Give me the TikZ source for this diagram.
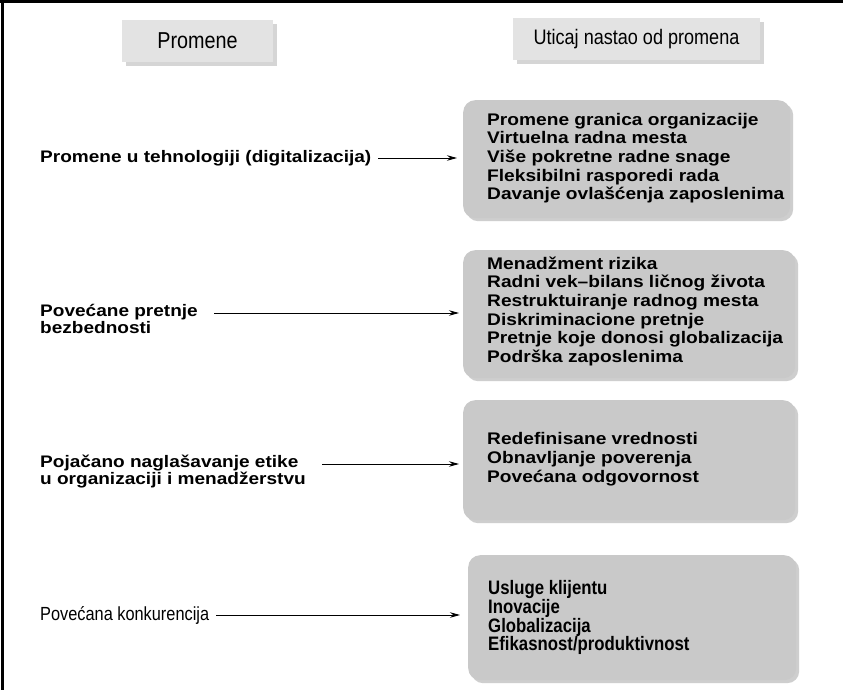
\documentclass[tikz,border=0pt]{standalone}
\usepackage{fontspec}
\setmainfont{Liberation Sans}
\newfontfamily\wideb[FakeStretch=1.14]{Liberation Sans}
\newfontfamily\narrowf[FakeStretch=0.86]{Liberation Sans}
\usetikzlibrary{shadows,arrows.meta}
\tikzset{
  hdr/.style={draw=none, fill=gray!22, minimum height=42pt, inner sep=0pt,
    drop shadow={shadow xshift=4pt, shadow yshift=-4pt, fill=gray!65},
    font=\narrowf\fontsize{21}{24}\selectfont},
  ibox/.style={draw=none, fill=gray!42, rounded corners=12pt, inner sep=0pt,
    anchor=north west,
    drop shadow={shadow xshift=3pt, shadow yshift=-3pt, fill=gray!75}},
  itxt/.style={anchor=west, align=left, inner sep=0pt,
    font=\wideb\bfseries\fontsize{16.8}{18.6}\selectfont},
  lbl/.style={anchor=west, align=left, inner sep=0pt,
    font=\wideb\bfseries\fontsize{16.7}{17}\selectfont},
  arr/.style={-{Stealth[length=10pt,width=5.5pt]}, line width=0.9pt, black}
}
\begin{document}
\begin{tikzpicture}[x=1pt,y=-1pt]
\useasboundingbox (0,0) rectangle (843,690);
\fill[white] (0,0) rectangle (843,690);
% frame (top and left)
\draw[line width=3pt] (0,2) -- (843,2);
\draw[line width=3pt] (2,0) -- (2,690);
% headers
\node[hdr, minimum width=151pt, font=\narrowf\fontsize{23}{24}\selectfont] (h1) at (197.5,41) {Promene};
\node[hdr, minimum width=247pt] (h2) at (636.5,39) {Uticaj nastao od promena};
% boxes
\node[ibox, minimum width=327pt, minimum height=118pt] (b1) at (463,100) {};
\node[ibox, minimum width=332pt, minimum height=128pt] (b2) at (463,250) {};
\node[ibox, minimum width=332pt, minimum height=120pt] (b3) at (463,400) {};
\node[ibox, minimum width=328pt, minimum height=125pt] (b4) at (468,555) {};
% box texts
\node[itxt] (t1) at ([xshift=24pt,yshift=1pt]b1.west)
  {Promene granica organizacije\\Virtuelna radna mesta\\Više pokretne radne snage\\Fleksibilni rasporedi rada\\Davanje ovlašćenja zaposlenima};
\node[itxt] (t2) at ([xshift=24pt,yshift=3pt]b2.west)
  {Menadžment rizika\\Radni vek–bilans ličnog života\\Restruktuiranje radnog mesta\\Diskriminacione pretnje\\Pretnje koje donosi globalizacija\\Podrška zaposlenima};
\node[itxt] (t3) at ([xshift=24pt,yshift=1pt]b3.west)
  {Redefinisane vrednosti\\Obnavljanje poverenja\\Povećana odgovornost};
\node[itxt, font=\narrowf\bfseries\fontsize{19.5}{18.7}\selectfont] (t4) at ([xshift=20pt]b4.west)
  {Usluge klijentu\\Inovacije\\Globalizacija\\Efikasnost/produktivnost};
% left labels
\node[lbl] (l1) at (40,158) {Promene u tehnologiji (digitalizacija)};
\node[lbl, anchor=north west] (l2) at (40,304) {Povećane pretnje\\bezbednosti};
\node[lbl, anchor=north west] (l3) at (40,455) {Pojačano naglašavanje etike\\u organizaciji i menadžerstvu};
\node[lbl, font=\narrowf\fontsize{19}{21}\selectfont] (l4) at (40,615) {Povećana konkurencija};
% arrow starts
\coordinate (s1) at (378,158);
\coordinate (s2) at (214,313);
\coordinate (s3) at (322,464);
\coordinate (s4) at (216,615);
\draw[arr] (s1) -- ([xshift=-6pt]s1 -| b1.west);
\draw[arr] (s2) -- ([xshift=-4pt]s2 -| b2.west);
\draw[arr] (s3) -- ([xshift=-4pt]s3 -| b3.west);
\draw[arr] (s4) -- ([xshift=-8pt]s4 -| b4.west);
\end{tikzpicture}
\end{document}
